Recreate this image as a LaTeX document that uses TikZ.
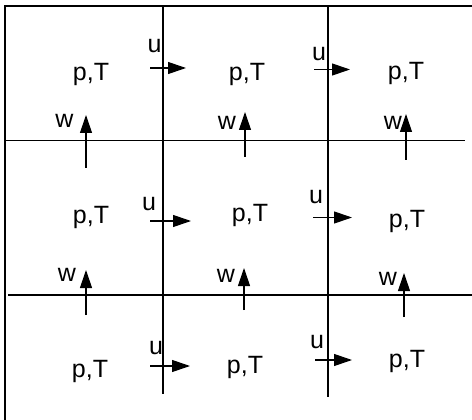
\documentclass[tikz,border=0pt]{standalone}
\usepackage{fontspec}
\setmainfont{Liberation Sans}
\usetikzlibrary{arrows.meta}
\tikzset{
  lbl/.style={inner sep=0pt, anchor=base, font=\fontsize{25}{25}\selectfont},
  grid line/.style={line width=1.2pt, black},
  frame line/.style={line width=2.2pt, black},
  vec/.style={line width=1.1pt, -{Triangle[length=18pt,width=12pt]}}
}
\begin{document}
\begin{tikzpicture}[x=1pt,y=-1pt]
\useasboundingbox (0,0) rectangle (472,420);
% frame
\draw[frame line] (5,420) -- (5,6) -- (472,6);
% grid
\draw[grid line] (163,6) -- (163,394);
\draw[grid line] (328,6) -- (328,397);
\draw[grid line] (5,140.5) -- (465,140.5);
\draw[grid line] (8,295) -- (472,295);
% p,T labels
\node[lbl] (pT11) at (91,81) {p,T};
\node[lbl] (pT12) at (247,81) {p,T};
\node[lbl] (pT13) at (406,80) {p,T};
\node[lbl] (pT21) at (91,223) {p,T};
\node[lbl] (pT22) at (250,222) {p,T};
\node[lbl] (pT23) at (407,227) {p,T};
\node[lbl] (pT31) at (90,377) {p,T};
\node[lbl] (pT32) at (245,373) {p,T};
\node[lbl] (pT33) at (407,367) {p,T};
% u labels
\node[lbl] (u11) at (154.5,53) {u};
\node[lbl] (u12) at (319,61) {u};
\node[lbl] (u21) at (149,211) {u};
\node[lbl] (u22) at (316,204) {u};
\node[lbl] (u31) at (156,354) {u};
\node[lbl] (u32) at (317,348) {u};
% w labels
\node[lbl] (w11) at (64.5,128) {w};
\node[lbl] (w12) at (227,129) {w};
\node[lbl] (w13) at (393,130) {w};
\node[lbl] (w21) at (67,281) {w};
\node[lbl] (w22) at (226,282) {w};
\node[lbl] (w23) at (388,285) {w};
% u arrows
\coordinate (ua11) at (150,68);   \coordinate (ub11) at (186,68);
\coordinate (ua12) at (314,69.5); \coordinate (ub12) at (350,69.5);
\coordinate (ua21) at (150,221);  \coordinate (ub21) at (191,221);
\coordinate (ua22) at (313,217.5);\coordinate (ub22) at (352,217.5);
\coordinate (ua31) at (150,366);  \coordinate (ub31) at (190,366);
\coordinate (ua32) at (315,360);  \coordinate (ub32) at (352,360);
\foreach \i in {11,12,21,22,31,32} \draw[vec] (ua\i) -- (ub\i);
% w arrows
\coordinate (wa11) at (86,168);   \coordinate (wb11) at (86,115);
\coordinate (wa12) at (245,157);  \coordinate (wb12) at (245,112);
\coordinate (wa13) at (406,160);  \coordinate (wb13) at (406,114);
\coordinate (wa21) at (86,315);   \coordinate (wb21) at (86,270);
\coordinate (wa22) at (244,310);  \coordinate (wb22) at (244,268);
\coordinate (wa23) at (404,317);  \coordinate (wb23) at (404,273);
\foreach \i in {11,12,13,21,22,23} \draw[vec] (wa\i) -- (wb\i);
\end{tikzpicture}
\end{document}
